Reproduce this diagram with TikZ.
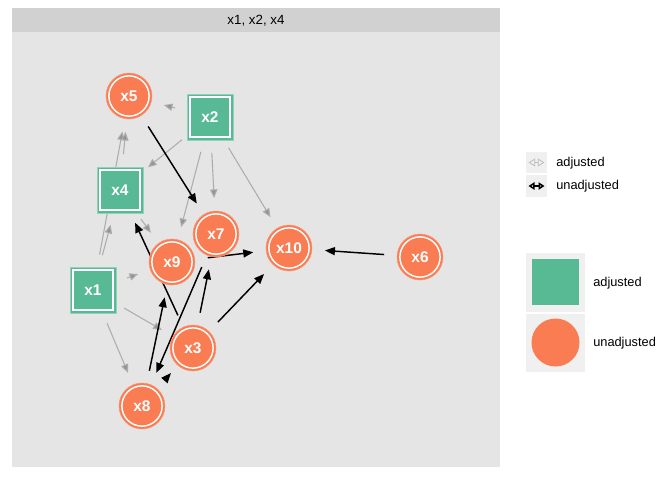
\documentclass[tikz,border=0pt]{standalone}
\usepackage{fontspec}
\setmainfont{Liberation Sans}
\usetikzlibrary{arrows.meta}
\definecolor{panelbg}{HTML}{E5E5E5}
\definecolor{stripbg}{HTML}{D1D1D1}
\definecolor{keybg}{HTML}{F0F0F0}
\definecolor{adjgreen}{HTML}{58BA94}
\definecolor{unadjorange}{HTML}{F97C53}
\definecolor{adjedge}{HTML}{ADADAD}
\pgfdeclarelayer{back}
\pgfdeclarelayer{edges}
\pgfsetlayers{back,edges,main}
\tikzset{
  varcirc/.style={circle, minimum size=34.5pt, inner sep=0pt, fill=unadjorange,
    draw=unadjorange!80!white, line width=0.4pt,
    text=white, font=\fontsize{11.6}{13}\selectfont\bfseries,
    path picture={\draw[white, line width=1.1pt]
      (path picture bounding box.center) circle[radius=15.1pt];}},
  varsq/.style={rectangle, minimum size=34.5pt, inner sep=0pt, fill=adjgreen,
    draw=adjgreen!65!white, line width=0.5pt,
    text=white, font=\fontsize{11.6}{13}\selectfont\bfseries,
    path picture={\draw[white, line width=1.1pt]
      ([xshift=2.4pt,yshift=2.4pt]path picture bounding box.south west) rectangle
      ([xshift=-2.4pt,yshift=-2.4pt]path picture bounding box.north east);}},
  adjarrow/.style={draw=adjedge, line width=0.8pt,
    -{Triangle[length=6.5pt,width=5.5pt,fill=adjedge!85!black]},
    shorten <=27pt, shorten >=27pt},
  unadjarrow/.style={draw=black, line width=1.1pt,
    -{Triangle[length=7.5pt,width=6pt]},
    shorten <=27pt, shorten >=27pt},
  legtext/.style={anchor=west, inner sep=0pt, font=\fontsize{9.6}{11}\selectfont},
}
\begin{document}
\begin{tikzpicture}[x=0.75pt, y=-0.75pt]
\useasboundingbox (0,0) rectangle (672,480);
\begin{pgfonlayer}{back}
  \fill[white] (0,0) rectangle (672,480);
  \fill[panelbg] (12,32) rectangle (500,467);
  \fill[stripbg] (12,8) rectangle (500,32);
\end{pgfonlayer}
\node[font=\fontsize{10}{12}\selectfont] (strip) at (256,20.5) {x1, x2, x4};

% variables
\node[varcirc] (x5) at (129,96) {x5};
\node[varsq] (x2) at (210,117) {x2};
\node[varsq] (x4) at (120,190) {x4};
\node[varsq] (x1) at (93,290) {x1};
\node[varcirc] (x9) at (172,262) {x9};
\node[varcirc] (x7) at (216,234) {x7};
\node[varcirc] (x10) at (289,248) {x10};
\node[varcirc] (x3) at (193,348) {x3};
\node[varcirc] (x8) at (142,406) {x8};
\node[varcirc] (x6) at (420,257) {x6};

\begin{pgfonlayer}{edges}
  % adjusted paths
  \draw[adjarrow] (x2.center) -- (x5.center);
  \draw[adjarrow] (x2.center) -- (x4.center);
  \draw[adjarrow] (x2.center) -- (x9.center);
  \draw[adjarrow] (x2.center) -- (x7.center);
  \draw[adjarrow] (x2.center) -- (x10.center);
  \draw[adjarrow] (x1.center) -- (x5.center);
  \draw[adjarrow] (x4.center) -- (x5.center);
  \draw[adjarrow] (x1.center) -- (x4.center);
  \draw[adjarrow] (x4.center) -- (x9.center);
  \draw[adjarrow] (x1.center) -- (x9.center);
  \draw[adjarrow] (x1.center) -- (x3.center);
  \draw[adjarrow] (x1.center) -- (x8.center);
  % unadjusted paths
  \draw[unadjarrow] (x5.center) -- (x7.center);
  \draw[unadjarrow] (x3.center) -- (x4.center);
  \draw[unadjarrow] (x8.center) -- (x9.center);
  \draw[unadjarrow] (x7.center) -- (x8.center);
  \draw[unadjarrow] (x3.center) -- (x7.center);
  \draw[unadjarrow] (x3.center) -- (x10.center);
  \draw[unadjarrow] (x9.center) -- (x10.center);
  \draw[unadjarrow] (x6.center) -- (x10.center);
  \draw[unadjarrow, shorten <=27.5pt, shorten >=25pt] (x8.center) -- (x3.center);
\end{pgfonlayer}

% legend: paths
\fill[keybg] (526,152) rectangle (547,173);
\fill[keybg] (526,175) rectangle (547,197);
\coordinate (la1) at (528.5,162.5);
\coordinate (lb1) at (544.5,162.5);
\coordinate (la2) at (528.5,186);
\coordinate (lb2) at (544.5,186);
\draw[adjedge!80!white, line width=0.6pt, {Triangle[open,length=5pt,width=6pt]}-{Triangle[open,length=5pt,width=6pt]}] (la1) -- (lb1);
\draw[black, line width=1.2pt, {Triangle[open,length=4.5pt,width=5.5pt]}-{Triangle[open,length=4.5pt,width=5.5pt]}] (la2) -- (lb2);
\node[legtext] (lt1) at (556,163.5) {adjusted};
\node[legtext] (lt2) at (556,186.5) {unadjusted};

% legend: variable status
\fill[keybg] (526,253) rectangle (585,312);
\fill[keybg] (526,314) rectangle (585,372);
\node[rectangle, fill=adjgreen, minimum size=35.2pt, inner sep=0pt] (ksq) at (555.5,282) {};
\node[circle, fill=unadjorange, minimum size=36pt, inner sep=0pt] (kci) at (555.5,342.5) {};
\node[legtext] (lt3) at (593,283) {adjusted};
\node[legtext] (lt4) at (593,343) {unadjusted};
\end{tikzpicture}
\end{document}
